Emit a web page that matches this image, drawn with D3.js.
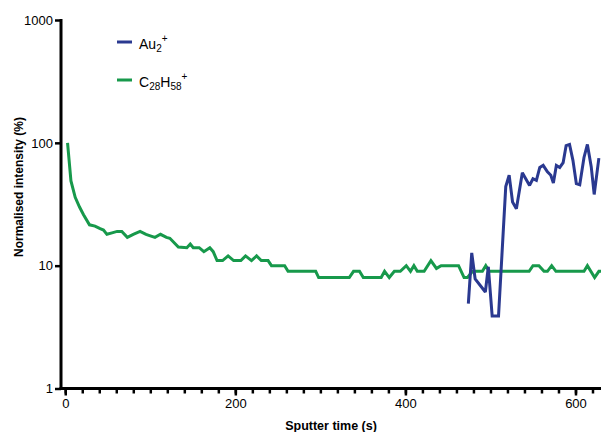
<!DOCTYPE html>
<html>
<head>
<meta charset="utf-8">
<script src="https://cdn.jsdelivr.net/npm/d3@7"></script>
<style>
  html, body { margin: 0; padding: 0; background: #fff; }
  svg { display: block; }
  text { font-family: "Liberation Sans", Arial, Helvetica, sans-serif; }
</style>
</head>
<body>
<svg id="chart" width="601" height="432"></svg>
<script>
// ---- data ----
const greenTimes = [2.7, 6.7, 11.7, 16.8, 21.5, 28.5, 35, 41, 45, 49, 55, 61, 66.5, 73, 80, 88, 95, 100, 105.5, 112, 119, 123, 133, 143, 147, 150.5, 157.5, 163, 170, 174, 178.5, 185, 191.5, 198, 206.5, 212, 219, 225, 230.5, 238.5, 242.5, 258, 262, 294.5, 298, 334, 339, 346, 350.5, 371.5, 375.5, 381, 387, 394, 401, 406, 410, 414, 422, 430, 436.5, 442, 462.5, 469, 473, 479, 490.5, 494.5, 498.5, 545.5, 550, 557, 563, 567, 572, 577, 610, 614, 622.5, 627.5, 632];
const greenValues = [100, 49, 36, 30, 26, 21.5, 21, 20, 19.5, 18, 18.5, 19, 19, 17, 18, 19, 18, 17.5, 17, 18, 17, 16.7, 14.2, 14, 15, 14, 14, 13, 14, 13, 11, 11, 12, 11, 11, 12, 11, 12, 11, 11, 10, 10, 9, 9, 8, 8, 9, 9, 8, 8, 9, 8, 9, 9, 10, 9, 10, 9, 9, 11, 9.5, 10, 10, 8, 8, 9, 9, 10, 9, 9, 10, 10, 9, 9, 10, 9, 9, 10, 8, 9, 9];
const blueTimes = [474, 478, 482, 494, 497.5, 502, 509.5, 518, 522, 526, 530.5, 537.5, 541.5, 546, 550, 554, 558, 562, 567, 571, 574, 577.5, 581.5, 585.5, 589, 593, 597, 601, 605, 610, 614, 618.5, 622, 627.5];
const blueValues = [4.9, 12.7, 7.8, 6.1, 9.8, 3.9, 3.9, 44, 54.5, 33, 29, 57, 51, 45, 51, 49.5, 63, 65.5, 58, 54.5, 47, 65.5, 63, 69, 95, 97, 72, 46.5, 45.5, 76, 97, 64, 38, 75];
const xMajorTicks = [0, 200, 400, 600];
const xMinorTicks = d3.range(0, 640, 20);
const yTicks = [1, 10, 100, 1000];
const seriesNames = ["Au", "C"];

// ---- layout ----
const svg = d3.select("#chart");
const x = d3.scaleLinear().domain([-5, 630]).range([61, 601]);
const y = d3.scaleLog().domain([1, 1000]).range([388.5, 20]);
const blue = "#2a3990";
const green = "#17994b";

svg.append("defs").append("clipPath").attr("id", "clip")
  .append("rect").attr("x", 61).attr("y", 0).attr("width", 540).attr("height", 390);

// minor x ticks
const gMinor = svg.append("g").attr("transform", `translate(0,${y(1)})`)
  .call(d3.axisBottom(x).tickValues(xMinorTicks).tickSize(5).tickFormat(""));
gMinor.select(".domain").remove();
gMinor.selectAll("line").attr("stroke", "#000").attr("stroke-width", 2.5);

// major x ticks
const gX = svg.append("g").attr("transform", `translate(0,${y(1)})`)
  .call(d3.axisBottom(x).tickValues(xMajorTicks).tickSize(7).tickPadding(3).tickFormat(d3.format("d")));
gX.select(".domain").remove();
gX.selectAll("line").attr("stroke", "#000").attr("stroke-width", 2.5);
gX.selectAll("text").attr("font-size", 13).attr("fill", "#000")
  .attr("font-family", "Liberation Sans, Arial, sans-serif");

// y axis
const gY = svg.append("g").attr("transform", `translate(61,0)`)
  .call(d3.axisLeft(y).tickValues(yTicks).tickSize(6).tickPadding(2).tickFormat(d3.format("d")));
gY.select(".domain").remove();
gY.selectAll("line").attr("stroke", "#000").attr("stroke-width", 2.5);
gY.selectAll("text").attr("font-size", 13).attr("fill", "#000")
  .attr("font-family", "Liberation Sans, Arial, sans-serif");

// axis lines
svg.append("line").attr("x1", 61).attr("x2", 61).attr("y1", y(1000) - 1).attr("y2", y(1) + 1.5)
  .attr("stroke", "#000").attr("stroke-width", 3);
svg.append("line").attr("x1", 59.5).attr("x2", 601).attr("y1", y(1)).attr("y2", y(1))
  .attr("stroke", "#000").attr("stroke-width", 3);

// lines
const line = d3.line().x(d => x(d[0])).y(d => y(d[1]));
const plot = svg.append("g").attr("clip-path", "url(#clip)");
plot.append("path").datum(d3.zip(greenTimes, greenValues))
  .attr("d", line).attr("fill", "none").attr("stroke", green)
  .attr("stroke-width", 3).attr("stroke-linejoin", "miter").attr("stroke-miterlimit", 2);
plot.append("path").datum(d3.zip(blueTimes, blueValues))
  .attr("d", line).attr("fill", "none").attr("stroke", blue)
  .attr("stroke-width", 3).attr("stroke-linejoin", "miter").attr("stroke-miterlimit", 2);

// legend
const leg = svg.append("g");
leg.append("line").attr("x1", 117).attr("x2", 132).attr("y1", 42).attr("y2", 42)
  .attr("stroke", blue).attr("stroke-width", 3);
const t1 = leg.append("text").attr("x", 139).attr("y", 49).attr("font-size", 14).attr("fill", "#000");
t1.append("tspan").text(seriesNames[0]);
t1.append("tspan").attr("font-size", 10).attr("dy", 3).text("2");
t1.append("tspan").attr("font-size", 10).attr("dy", -10).text("+");

leg.append("line").attr("x1", 117).attr("x2", 132).attr("y1", 80).attr("y2", 80)
  .attr("stroke", green).attr("stroke-width", 3);
const t2 = leg.append("text").attr("x", 139).attr("y", 87).attr("font-size", 14).attr("fill", "#000");
t2.append("tspan").text(seriesNames[1]);
t2.append("tspan").attr("font-size", 10).attr("dy", 3).text("28");
t2.append("tspan").attr("dy", -3).text("H");
t2.append("tspan").attr("font-size", 10).attr("dy", 3).text("58");
t2.append("tspan").attr("font-size", 10).attr("dy", -10).text("+");

// axis titles
svg.append("text").attr("x", 331).attr("y", 430).attr("text-anchor", "middle")
  .attr("font-size", 12.5).attr("font-weight", "bold").attr("fill", "#000")
  .text("Sputter time (s)");
svg.append("text").attr("transform", "translate(23,187) rotate(-90)")
  .attr("text-anchor", "middle").attr("font-size", 12).attr("font-weight", "bold").attr("fill", "#000")
  .text("Normalised intensity (%)");
</script>
</body>
</html>
